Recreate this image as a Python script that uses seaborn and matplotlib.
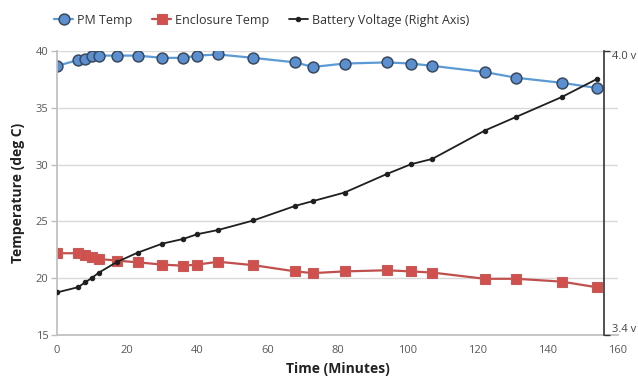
import numpy as np
import pandas as pd
import matplotlib
matplotlib.use("Agg")
import matplotlib.pyplot as plt
import seaborn as sns

# values
time_min = [0, 6, 8, 10, 12, 17, 23, 30, 36, 40, 46, 56, 68, 73,
            82, 94, 101, 107, 122, 131, 144, 154]
pm_temp = [38.7, 39.2, 39.3, 39.55, 39.6, 39.6, 39.6, 39.4, 39.4, 39.6, 39.7,
           39.4, 39.0, 38.6, 38.9, 39.0, 38.9, 38.7, 38.15, 37.65, 37.2, 36.75]
enclosure_temp = [22.2, 22.2, 22.05, 21.85, 21.7, 21.55, 21.4, 21.2, 21.1, 21.2,
                  21.45, 21.15, 20.6, 20.45, 20.6, 20.7, 20.6, 20.5, 19.95,
                  19.95, 19.7, 19.2]
battery_v = [3.490, 3.501, 3.511, 3.521, 3.532, 3.554, 3.574, 3.593, 3.603,
             3.613, 3.622, 3.642, 3.673, 3.683, 3.701, 3.740, 3.761, 3.772,
             3.832, 3.861, 3.903, 3.941]

temp_ticks = [15, 20, 25, 30, 35, 40]
x_ticks = [0, 20, 40, 60, 80, 100, 120, 140, 160]
volt_ticks = [3.4, 4.0]
volt_labels = ["3.4 v", "4.0 v"]

df = pd.DataFrame({"Time": time_min, "PM": pm_temp,
                   "Enclosure": enclosure_temp, "Voltage": battery_v})

sns.set_theme(style="white")
plt.rcParams["font.family"] = ["Open Sans", "DejaVu Sans"]

fig = plt.figure(figsize=(6.38, 3.81), dpi=100)
ax = fig.add_axes([0.0893, 0.1207, 0.8794, 0.7453])

blue = "#5B9BD5"
red = "#C0504D"

sns.lineplot(data=df, x="Time", y="PM", ax=ax, color=blue, linewidth=1.6,
             marker="o", markersize=7.8, markerfacecolor="#5B8FD0",
             markeredgecolor="#3A4A5E", markeredgewidth=1.1, label="PM Temp")
sns.lineplot(data=df, x="Time", y="Enclosure", ax=ax, color=red, linewidth=1.6,
             marker="s", markersize=7.2, markerfacecolor="#D0504D",
             markeredgecolor="#C85A58", markeredgewidth=0.8,
             label="Enclosure Temp")

ax.set_xlim(0, 160)
ax.set_ylim(15, 40)
ax.set_xticks(x_ticks)
ax.set_yticks(temp_ticks)
ax.grid(axis="y", color="#D9D9D9", linewidth=1)
ax.set_axisbelow(True)
for side in ["top", "right"]:
    ax.spines[side].set_visible(False)
for side in ["left", "bottom"]:
    ax.spines[side].set_color("#BFBFBF")
ax.tick_params(axis="both", colors="#BFBFBF", labelcolor="#595959",
               labelsize=8, length=4, width=1, direction="out")
ax.tick_params(axis="y", pad=2)
ax.set_xlabel("Time (Minutes)", fontsize=10, fontweight="bold",
              color="#222222", labelpad=4)
ax.set_ylabel("Temperature (deg C)", fontsize=10, fontweight="bold",
              color="#222222", labelpad=8)

# right axis for battery voltage
ax2 = ax.twinx()
sns.lineplot(data=df, x="Time", y="Voltage", ax=ax2, color="#1F1F1F",
             linewidth=1.3, marker="o", markersize=3.2,
             markeredgecolor="#1F1F1F", label="Battery Voltage (Right Axis)")
ax2.set_ylim(3.4, 4.0)
ax2.set_yticks(volt_ticks)
ax2.set_yticklabels(volt_labels)
ax2.set_ylabel("")
for side in ["top", "left", "bottom"]:
    ax2.spines[side].set_visible(False)
ax2.spines["right"].set_position(("axes", 0.975))
ax2.spines["right"].set_color("#333333")
ax2.spines["right"].set_linewidth(1.2)
ax2.tick_params(axis="y", colors="#333333", labelcolor="#444444",
                labelsize=8, length=4, width=1, pad=2)
tl = ax2.get_yticklabels()
tl[0].set_verticalalignment("bottom")
tl[1].set_verticalalignment("top")

h1, l1 = ax.get_legend_handles_labels()
h2, l2 = ax2.get_legend_handles_labels()
ax.get_legend().remove()
ax2.get_legend().remove()
fig.legend(h1 + h2, l1 + l2, loc="center", bbox_to_anchor=(0.41, 0.947),
           ncol=3, frameon=False, fontsize=9, handlelength=1.5,
           columnspacing=1.6, handletextpad=0.3, labelcolor="#333333")

fig.savefig("out.png", dpi=100)
